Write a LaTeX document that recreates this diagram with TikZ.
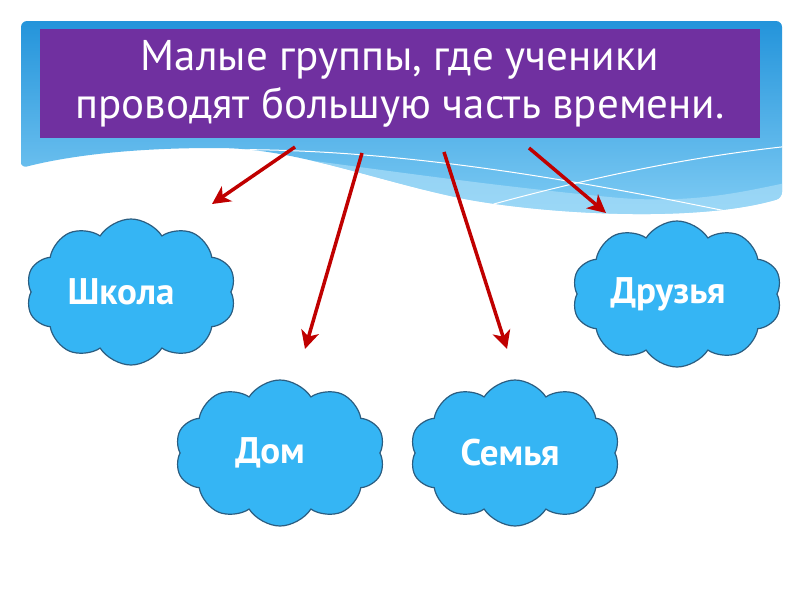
\documentclass[tikz,border=0pt]{standalone}
\usepackage{fontspec}
\setmainfont{PT Sans}
\usepackage{xcolor}
\usetikzlibrary{shapes.symbols,arrows.meta,positioning}

\definecolor{bandtop}{HTML}{1A8ED8}
\definecolor{bandbot}{HTML}{86D0F6}
\definecolor{bandlight}{HTML}{A8DDF8}
\definecolor{titlepurple}{HTML}{7030A0}
\definecolor{cloudblue}{HTML}{35B5F4}
\definecolor{cloudedge}{HTML}{2B5D80}
\definecolor{arrowred}{HTML}{C00000}

\begin{document}
\begin{tikzpicture}[x=1pt, y=-1pt,
    titlebox/.style={rectangle, fill=titlepurple, text=white, minimum width=720, minimum height=109, align=center, font=\fontsize{43}{48}\selectfont},
    cloudbox/.style={cloud, cloud puffs=10, cloud puff arc=115, aspect=1.5, draw=cloudedge, line width=1.2, fill=cloudblue, minimum width=210, minimum height=146},
    cloudtext/.style={text=white, font=\bfseries\fontsize{37}{42}\selectfont},
    arr/.style={draw=arrowred, line width=3.5, -{Stealth[length=18, width=18, inset=5]}}
]
    % Page
    \fill[white] (0,0) rectangle (800,600);
    \useasboundingbox (0,0) rectangle (800,600);

    % Wavy blue band behind the title
    \begin{scope}
        \clip[rounded corners=6] (21,168) -- (21,21) -- (782,21) -- (782,198)
            .. controls (700,222) and (560,215) .. (470,200)
            .. controls (380,182) and (300,150) .. (220,148)
            .. controls (120,148) and (60,158) .. (21,168) -- cycle;
        \shade[top color=bandtop, bottom color=bandbot] (0,0) rectangle (800,230);
        \fill[bandlight, opacity=0.7] (230,150) .. controls (350,165) and (480,185) .. (620,198)
            .. controls (700,204) and (750,190) .. (800,180) -- (800,240) -- (230,240) -- cycle;
        \draw[white, line width=1] (200,150) .. controls (400,145) and (600,185) .. (760,218);
        \draw[white, line width=1] (490,205) .. controls (600,175) and (700,155) .. (800,145);
    \end{scope}

    % Title
    \node[titlebox] (title) at (400,83.5) {Малые группы, где ученики\\проводят большую часть времени.};

    % Clouds
    \node[cloudbox] (school) at (131,292) {};
    \node[cloudbox] (home) at (280,453) {};
    \node[cloudbox] (family) at (515,453) {};
    \node[cloudbox] (friends) at (677,294) {};
    \node[cloudtext] (schooltxt) at ([xshift=-10]school.center) {Школа};
    \node[cloudtext] (hometxt) at ([xshift=-10]home.center) {Дом};
    \node[cloudtext] (familytxt) at ([xshift=-5]family.center) {Семья};
    \node[cloudtext] (friendstxt) at ([xshift=-9]friends.center) {Друзья};

    % Arrow ends
    \coordinate (s1) at (295,147);
    \coordinate (e1) at (212,204);
    \coordinate (s2) at (362,153);
    \coordinate (e2) at (305,349);
    \coordinate (s3) at (444,152);
    \coordinate (e3) at (507,349);
    \coordinate (s4) at (529,148);
    \coordinate (e4) at (606,213);

    % Arrows
    \draw[arr] (s1) -- (e1);
    \draw[arr] (s2) -- (e2);
    \draw[arr] (s3) -- (e3);
    \draw[arr] (s4) -- (e4);
\end{tikzpicture}
\end{document}
